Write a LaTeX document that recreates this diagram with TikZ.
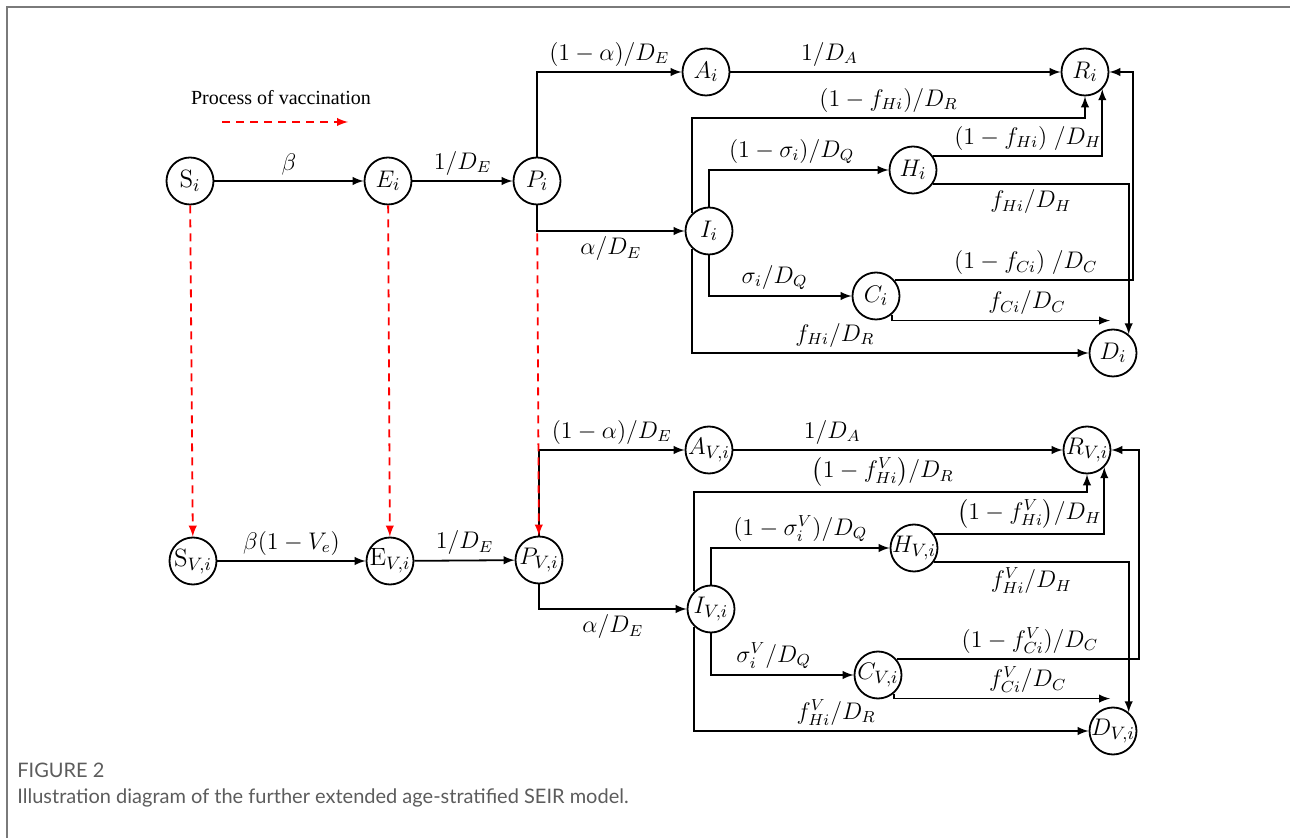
\documentclass[tikz,border=0pt]{standalone}
\usepackage{amsmath}
\usepackage{fontspec}
\usepackage{tikz}
\usepackage{xcolor}
\usetikzlibrary{arrows, positioning, calc}
\newfontfamily\legendfont{Liberation Serif}
\newfontfamily\capfont{Lato}
\definecolor{framegray}{HTML}{7A7A7A}
\definecolor{capgray}{HTML}{5C5C5C}
\newcommand{\cmp}[1]{\makebox[0pt]{$#1$}}

\begin{document}
\begin{tikzpicture}[x=0.5pt, y=-0.5pt, >=latex,
    comp/.style={draw, circle, minimum size=23.5pt, inner sep=0pt, line width=0.9pt, font=\fontsize{12.5}{14}\selectfont},
    flow/.style={->, line width=0.9pt},
    vacc/.style={->, red, line width=0.9pt, dash pattern=on 4pt off 3pt},
    rate/.style={font=\fontsize{11.5}{13}\selectfont, inner sep=2.5pt}]
    \useasboundingbox (0,0) rectangle (1290,838);
    \draw[framegray, line width=1pt] (7,838) -- (7,7) -- (1290,7);

    % Compartments (unvaccinated)
    \node[comp] (si) at (190,181) {\cmp{\mathrm{S}_i}};
    \node[comp] (ei) at (388,181) {\cmp{E_i}};
    \node[comp] (pi) at (537,181) {\cmp{P_i}};
    \node[comp] (ai) at (706,72) {\cmp{A_i}};
    \node[comp] (ri) at (1085,72) {\cmp{R_i}};
    \node[comp] (ii) at (709,231) {\cmp{I_i}};
    \node[comp] (hi) at (913,170) {\cmp{H_i}};
    \node[comp] (ci) at (876,296) {\cmp{C_i}};
    \node[comp] (di) at (1113,353) {\cmp{D_i}};

    % Compartments (vaccinated)
    \node[comp] (svi) at (193,561) {\cmp{\mathrm{S}_{V,i}}};
    \node[comp] (evi) at (390,561) {\cmp{\mathrm{E}_{V,i}}};
    \node[comp] (pvi) at (539,560) {\cmp{P_{V,i}}};
    \node[comp] (avi) at (709,450) {\cmp{A_{V,i}}};
    \node[comp] (rvi) at (1087,450) {\cmp{R_{V,i}}};
    \node[comp] (ivi) at (711,609) {\cmp{I_{V,i}}};
    \node[comp] (hvi) at (914,548) {\cmp{H_{V,i}}};
    \node[comp] (cvi) at (878,675) {\cmp{C_{V,i}}};
    \node[comp] (dvi) at (1113,731) {\cmp{D_{V,i}}};

    % Legend
    \node[font=\legendfont\fontsize{10}{12}\selectfont] (leg) at (281,98) {Process of vaccination};
    \coordinate (v1) at (222,122);
    \coordinate (v2) at (348,122);
    \draw[vacc] (v1) -- (v2);

    % Flows (unvaccinated)
    \draw[flow] (si) -- node[rate, above] (lb1) {$\beta$} (ei);
    \draw[flow] (ei) -- node[rate, above] (lb2) {$1/D_E$} (pi);
    \draw[flow] (pi) |- node[rate, above, pos=.75] (lb3) {$(1-\alpha)/D_E$} (ai);
    \draw[flow] (pi) |- node[rate, below, pos=.75] (lb4) {$\alpha/D_E$} (ii);
    \draw[flow] (ai) -- node[rate, above, pos=.3] (lb5) {$1/D_A$} (ri);
    \draw[flow] (ii.134) -- (ii.134 |- 0,118) -| node[rate, above, pos=.25] (lb6) {$(1-f_{Hi})/D_R$} (ri.south);
    \draw[flow] (ii) |- node[rate, above, pos=.73] (lb7) {$(1-\sigma_i)/D_Q$} (hi);
    \draw[flow] (hi.35) -| node[rate, above, pos=.28] (lb8) {$(1-f_{Hi})\;/D_H$} (ri.-45);
    \draw[flow] (hi.-35) -| node[rate, below, pos=.25] (lb9) {$f_{Hi}/D_H$} (di.50);
    \draw[flow] (ci.40) -- node[rate, above, pos=.55] (lb10) {$(1-f_{Ci})\;/D_C$} (ci.40 -| 1133,0) |- (ri.east);
    \draw[flow] (ii) |- node[rate, above, pos=.73] (lb11) {$\sigma_i/D_Q$} (ci);
    \draw[flow] (ci.-50) |- node[rate, above, pos=.81] (lb12) {$f_{Ci}/D_C$} ($(di.north)+(-3,-8)$);
    \draw[flow] (ii.226) |- node[rate, above, pos=.68] (lb13) {$f_{Hi}/D_R$} (di.west);

    % Flows (vaccinated)
    \draw[flow] (svi) -- node[rate, above] (lv1) {$\beta(1-V_e)$} (evi);
    \draw[flow] (evi) -- node[rate, above] (lv2) {$1/D_E$} (pvi);
    \draw[flow] (pvi) |- node[rate, above, pos=.75] (lv3) {$(1-\alpha)/D_E$} (avi);
    \draw[flow] (pvi) |- node[rate, below, pos=.75] (lv4) {$\alpha/D_E$} (ivi);
    \draw[flow] (avi) -- node[rate, above, pos=.3] (lv5) {$1/D_A$} (rvi);
    \draw[flow] (ivi.134) -- (ivi.134 |- 0,492) -| node[rate, above, pos=.24] (lv6) {$\bigl(1-f_{Hi}^V\bigr)/D_R$} (rvi.south);
    \draw[flow] (ivi) |- node[rate, above, pos=.75] (lv7) {$(1-\sigma_i^V)/D_Q$} (hvi);
    \draw[flow] (hvi.35) -| node[rate, above, pos=.28] (lv8) {$\bigl(1-f_{Hi}^V\bigr)/D_H$} (rvi.-45);
    \draw[flow] (hvi.-35) -| node[rate, below, pos=.25] (lv9) {$f_{Hi}^V/D_H$} (dvi.50);
    \draw[flow] (cvi.40) -- node[rate, above, pos=.55] (lv10) {$(1-f_{Ci}^V)/D_C$} (cvi.40 -| 1139,0) |- (rvi.east);
    \draw[flow] (ivi) |- node[rate, above, pos=.72] (lv11) {$\sigma_i^V/D_Q$} (cvi);
    \draw[flow] (cvi.-50) |- node[rate, above, pos=.81] (lv12) {$f_{Ci}^V/D_C$} ($(dvi.north)+(-3,-8)$);
    \draw[flow] (ivi.226) |- node[rate, above, pos=.68] (lv13) {$f_{Hi}^V/D_R$} (dvi.west);

    % Vaccination
    \draw[vacc] (si) -- (svi);
    \draw[vacc] (ei) -- (evi);
    \draw[vacc, shorten <=14pt] (pi) -- (pvi);

    % Caption
    \node[anchor=base west, inner sep=0pt, text=capgray, font=\capfont\fontsize{10}{12}\selectfont] (fig) at (17,777) {FIGURE 2};
    \node[anchor=base west, inner sep=0pt, text=capgray, font=\capfont\fontsize{10}{12}\selectfont] (cap) at (17,803) {Illustration diagram of the further extended age-stratified SEIR model.};
\end{tikzpicture}
\end{document}
